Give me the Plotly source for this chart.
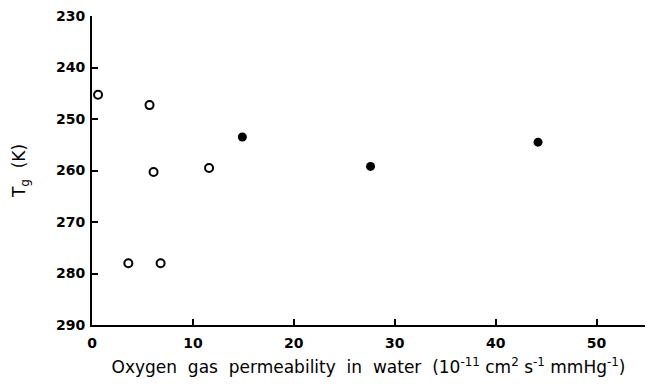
import plotly.graph_objects as go

open_x = [0.6, 5.7, 6.1, 11.6, 3.6, 6.8]
open_y = [245.3, 247.3, 260.3, 259.5, 278.0, 278.0]
filled_x = [14.9, 27.6, 44.2]
filled_y = [253.5, 259.2, 254.5]
x_ticks = [0, 10, 20, 30, 40, 50]
y_ticks = [230, 240, 250, 260, 270, 280, 290]

fig = go.Figure()
fig.add_trace(go.Scatter(x=open_x, y=open_y, mode="markers",
                         marker=dict(symbol="circle-open", size=8, color="black",
                                     line=dict(width=2, color="black")),
                         showlegend=False, cliponaxis=False))
fig.add_trace(go.Scatter(x=filled_x, y=filled_y, mode="markers",
                         marker=dict(symbol="circle", size=9, color="black"),
                         showlegend=False, cliponaxis=False))

tickfont = dict(family="DejaVu Sans", size=14, color="black", weight="bold")
fig.update_layout(
    width=653, height=384,
    margin=dict(l=92, r=8, t=14, b=59),
    paper_bgcolor="white", plot_bgcolor="white",
    font=dict(family="DejaVu Sans", color="black"),
    xaxis=dict(range=[0, 54.8], tickvals=x_ticks, ticks="inside", ticklen=6,
               tickwidth=1.5, tickcolor="black", showline=True, linecolor="black",
               linewidth=2, showgrid=False, zeroline=False,
               ticklabelstandoff=4,
               tickfont=tickfont,
               title=dict(text="Oxygen  gas  permeability  in  water  (10<sup>-11</sup> cm<sup>2</sup> s<sup>-1</sup> mmHg<sup>-1</sup>)",
                          font=dict(family="DejaVu Sans", size=17, color="black"), standoff=11)),
    yaxis=dict(range=[290, 230], tickvals=y_ticks, ticks="inside", ticklen=6,
               tickwidth=1.5, tickcolor="black", showline=True, linecolor="black",
               linewidth=2, showgrid=False, zeroline=False,
               ticklabelstandoff=2,
               tickfont=tickfont,
               title=dict(text="T<sub>g</sub>  (K)",
                          font=dict(family="DejaVu Sans", size=17, color="black"), standoff=26)),
)
fig.write_html("out.html")
